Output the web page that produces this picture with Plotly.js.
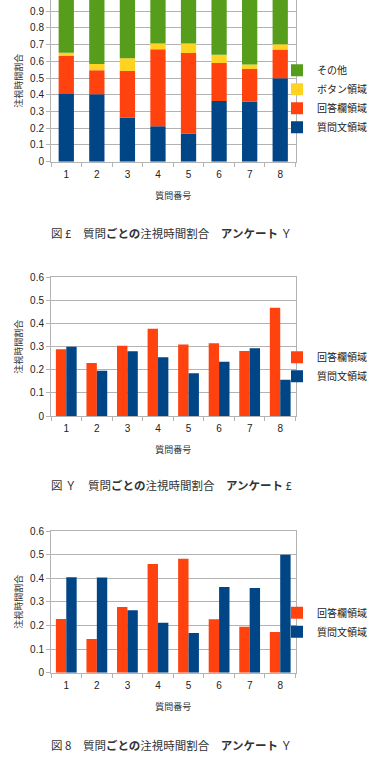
<!DOCTYPE html>
<html>
<head>
<meta charset="utf-8">
<script src="https://cdn.plot.ly/plotly-3.0.1.min.js"></script>
<style>
html,body{margin:0;padding:0;background:#fff;}
#chart{width:373px;height:768px;}
</style>
</head>
<body>
<div id="chart"></div>
<script>
// Question numbers (x categories)
const categories = ['1','2','3','4','5','6','7','8'];

// Survey Y (figures 1 and 3): share of gaze time per area
const surveyY_question = [0.404, 0.403, 0.264, 0.212, 0.168, 0.363, 0.359, 0.499];
const surveyY_answer   = [0.227, 0.143, 0.278, 0.460, 0.482, 0.226, 0.195, 0.172];
const surveyY_button   = [0.020, 0.038, 0.076, 0.034, 0.056, 0.050, 0.026, 0.030];
const surveyY_other    = [0.349, 0.416, 0.382, 0.294, 0.294, 0.361, 0.420, 0.299];

// Survey £ (figure 2)
const surveyL_answer   = [0.289, 0.229, 0.304, 0.377, 0.309, 0.315, 0.281, 0.468];
const surveyL_question = [0.300, 0.196, 0.280, 0.254, 0.185, 0.235, 0.293, 0.157];

// Labels
const seriesNames = {question: '質問文領域', answer: '回答欄領域', button: 'ボタン領域', other: 'その他'};
const xTitle = '質問番号';
const yTitle = '注視時間割合';
const captions = [
  '図 £　質問<b>ごとの</b>注視時間割合　<b>アンケート</b> Ｙ',
  '図 Ｙ　質問<b>ごとの</b>注視時間割合　<b>アンケート</b> £',
  '図 8　質問<b>ごとの</b>注視時間割合　<b>アンケート</b> Ｙ'
];

const C_BLUE = '#004586', C_RED = '#ff420e', C_YEL = '#ffd320', C_GRN = '#579d1c';
const FONT = 'Liberation Sans, "Noto Sans CJK JP", sans-serif';

// manual stacking bases for figure 1
const base1 = surveyY_question.map(() => 0);
const base2 = surveyY_question.slice();
const base3 = surveyY_question.map((v, i) => v + surveyY_answer[i]);
const base4 = base3.map((v, i) => v + surveyY_button[i]);

const traces = [
  {type:'bar', x:categories, y:surveyY_question, base:base1, name:seriesNames.question, marker:{color:C_BLUE}, width:0.5, xaxis:'x', yaxis:'y', legend:'legend'},
  {type:'bar', x:categories, y:surveyY_answer, base:base2, name:seriesNames.answer, marker:{color:C_RED}, width:0.5, xaxis:'x', yaxis:'y', legend:'legend'},
  {type:'bar', x:categories, y:surveyY_button, base:base3, name:seriesNames.button, marker:{color:C_YEL}, width:0.5, xaxis:'x', yaxis:'y', legend:'legend'},
  {type:'bar', x:categories, y:surveyY_other, base:base4, name:seriesNames.other, marker:{color:C_GRN}, width:0.5, xaxis:'x', yaxis:'y', legend:'legend'},

  {type:'bar', x:categories, y:surveyL_answer, name:seriesNames.answer, marker:{color:C_RED}, width:0.34, offset:-0.34, xaxis:'x2', yaxis:'y2', legend:'legend2'},
  {type:'bar', x:categories, y:surveyL_question, name:seriesNames.question, marker:{color:C_BLUE}, width:0.34, offset:0, xaxis:'x2', yaxis:'y2', legend:'legend2'},

  {type:'bar', x:categories, y:surveyY_answer, name:seriesNames.answer, marker:{color:C_RED}, width:0.34, offset:-0.34, xaxis:'x3', yaxis:'y3', legend:'legend3'},
  {type:'bar', x:categories, y:surveyY_question, name:seriesNames.question, marker:{color:C_BLUE}, width:0.34, offset:0, xaxis:'x3', yaxis:'y3', legend:'legend3'}
];

const W = 373, H = 768;
const py = p => 1 - p / H;
const px = p => p / W;

function xax(anchor) {
  return {
    type:'category', anchor:anchor, domain:[px(51), px(295.5)],
    showgrid:false, showline:true, linecolor:'#b3b3b3', linewidth:1, mirror:true,
    ticks:'outside', tickson:'boundaries', ticklen:4, tickcolor:'#b3b3b3',
    ticklabelstandoff:3,
    tickfont:{family:FONT, size:10, color:'#222'},
    title:{text:xTitle, font:{family:'"Noto Sans CJK JP", sans-serif', size:9, color:'#333'}, standoff:13},
    fixedrange:true
  };
}
function yax(anchor, top, bottom, range) {
  return {
    anchor:anchor, domain:[py(bottom), py(top)], range:range,
    dtick:0.1, tick0:0, showgrid:true, gridcolor:'#b3b3b3', gridwidth:1, zeroline:false,
    showline:true, linecolor:'#b3b3b3', linewidth:1, mirror:true,
    ticks:'outside', ticklen:4, tickcolor:'#b3b3b3',
    tickfont:{family:FONT, size:10, color:'#222'},
    title:{text:yTitle, font:{family:'"Noto Sans CJK JP", sans-serif', size:9, color:'#333'}, standoff:5},
    fixedrange:true
  };
}
function leg(yc, order) {
  return {
    x:px(277), xanchor:'left', y:py(yc), yanchor:'middle',
    bgcolor:'rgba(0,0,0,0)', borderwidth:0, traceorder:order,
    font:{family:'"Noto Sans CJK JP", sans-serif', size:10, color:'#222'}
  };
}

const layout = {
  width:W, height:H, margin:{l:0, r:0, t:0, b:0},
  paper_bgcolor:'#fff', plot_bgcolor:'#fff',
  barmode:'overlay', showlegend:true,
  xaxis: xax('y'),
  yaxis: yax('x', 0, 161.7, [0, 0.966]),
  xaxis2: xax('y2'),
  yaxis2: yax('x2', 277.3, 416, [0, 0.6]),
  xaxis3: xax('y3'),
  yaxis3: yax('x3', 531, 672.7, [0, 0.6]),
  legend: leg(98.7, 'reversed'),
  legend2: leg(366.8, 'normal'),
  legend3: leg(622.3, 'normal'),
  annotations: [233.3, 485, 745].map((yc, i) => ({
    xref:'paper', yref:'paper', x:px(49), xanchor:'left', y:py(yc), yanchor:'middle',
    text:captions[i], showarrow:false,
    font:{family:'"Noto Sans CJK JP", sans-serif', size:11.5, color:'#333'}
  }))
};

Plotly.newPlot('chart', traces, layout, {staticPlot:true, displayModeBar:false});
</script>
</body>
</html>
